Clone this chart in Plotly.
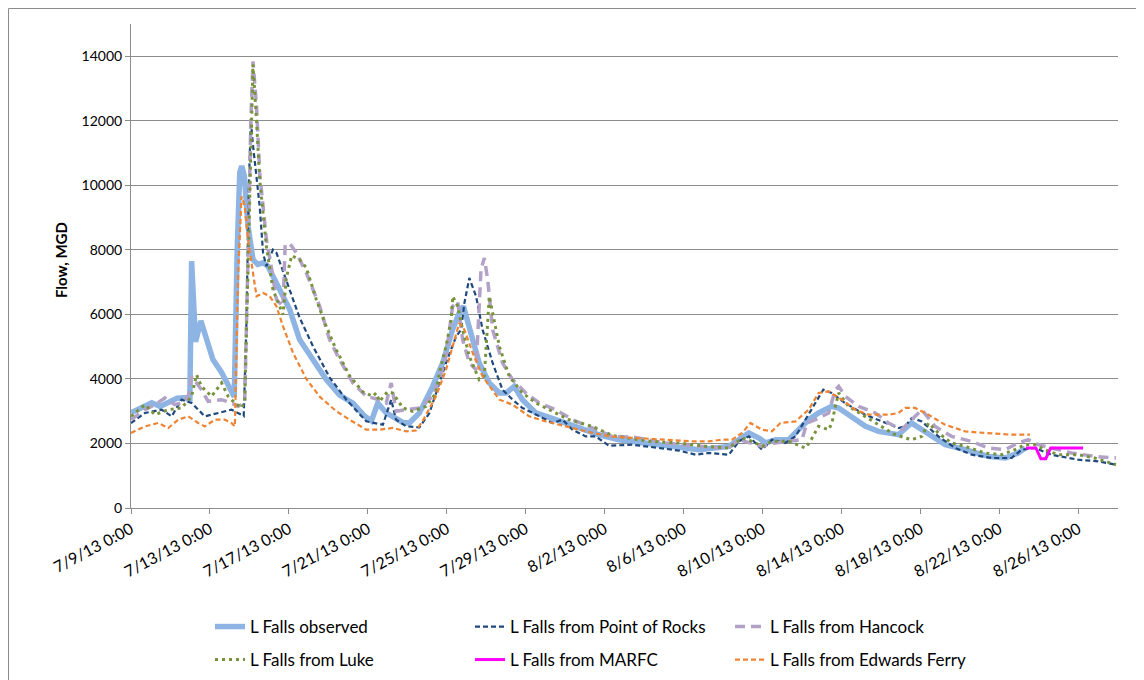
import pandas as pd
import plotly.graph_objects as go

BASE_DATE = "2013-07-09"

# ---- data: days since 7/9/13 0:00 and flow (MGD) ----
obs_days = [0, 1.05, 1.47, 2.33, 2.83, 2.98, 3.07, 3.27, 3.54, 3.84, 4.15, 4.59, 5.09, 5.23, 5.38,
            5.51, 5.61, 5.74, 5.93, 6.18, 6.42, 6.69, 6.94, 7.53, 8.04, 8.54, 9.22, 9.89, 10.57, 11.24,
            11.83, 12.18, 12.50, 12.93, 13.35, 13.77, 14.11, 14.61, 15.28, 15.79, 16.29, 16.63, 16.84,
            17.14, 17.64, 18.15, 18.66, 19.01, 19.41, 19.83, 20.51, 21.52, 22.53, 23.71, 24.72, 26.23,
            27.76, 28.77, 30.29, 30.79, 31.30, 31.81, 32.15, 32.66, 33.32, 33.82, 34.33, 34.83, 35.49,
            35.85, 36.51, 37.21, 37.87, 38.88, 39.54, 40.24, 41.25, 42.26, 43.43, 44.29, 44.94, 45.30]
obs_vals = [2950, 3260, 3150, 3400, 3420, 3300, 7650, 5150, 5800, 5200, 4600, 4200, 3570, 3450, 8000,
            10400, 10600, 10300, 8730, 7700, 7550, 7600, 7490, 6770, 6150, 5220, 4600, 3980, 3500, 3250,
            2850, 2700, 3250, 2950, 2800, 2650, 2640, 2945, 3770, 4495, 5530, 6050, 6250,
            5530, 4495, 3875, 3565, 3565, 3770, 3357, 2945, 2737, 2530, 2270, 2117, 2015,
            1910, 1807, 1910, 2117, 2325, 2170, 2015, 2117, 2117, 2427, 2737, 2945, 3150,
            3100, 2840, 2530, 2375, 2272, 2635, 2375, 1962, 1807, 1600, 1550, 1705, 1860]

por_days = [0, 0.71, 1.55, 2.06, 2.56, 3.07, 3.74, 4.41, 5.09, 5.60, 5.71, 5.84, 5.97, 6.07, 6.17, 6.52,
            6.69, 6.86, 7.19, 7.37, 7.87, 8.54, 9.22, 10.06, 10.91, 11.92, 12.76, 13.18, 13.43, 13.94,
            14.61, 15.12, 15.62, 15.96, 16.47, 16.72, 16.89, 17.14, 17.48, 17.81, 18.32, 18.82, 19.33,
            19.83, 20.51, 21.35, 21.86, 22.36, 23.04, 23.54, 24.21, 25.39, 26.74, 27.76, 28.61, 29.27,
            30.29, 30.79, 31.30, 31.97, 32.47, 33.15, 33.66, 34.16, 34.67, 35.07, 35.49, 36.17, 37.19,
            38.21, 38.88, 39.22, 39.55, 40.06, 40.90, 41.75, 42.59, 43.60, 44.61, 45.12, 45.79, 46.63,
            47.98, 48.99, 49.90]
por_vals = [2635, 2945, 3047, 2840, 3357, 3255, 2840, 2945, 3047, 2890, 2850, 5500, 10000, 12000, 11300, 9350,
            7905, 7490, 8007, 7905, 7077, 5900, 5010, 4050, 3357, 2685, 2580, 3357, 2737, 2530,
            2500, 2945, 3875, 4495, 5320, 5527, 6355, 7130, 6560, 5527, 4495, 3667, 3357,
            3100, 2900, 2635, 2737, 2427, 2220, 2220, 1930, 1962, 1860, 1780, 1652, 1705,
            1652, 2065, 2220, 1807, 2117, 2015, 2220, 2737, 3255, 3667, 3565, 3255, 2892,
            2635, 2480, 2530, 2790, 2685, 2220, 1860, 1652, 1550, 1550, 1807, 1860, 1652,
            1497, 1445, 1342]

han_days = [0, 0.71, 1.21, 1.72, 2.22, 2.56, 2.90, 3.07, 3.57, 3.91, 4.59, 5.09, 5.42, 5.76, 5.97, 6.07,
            6.18, 6.36, 6.52, 6.86, 7.10, 7.37, 7.70, 7.81, 8.04, 8.38, 8.88, 9.56, 10.06, 10.57, 11.24,
            11.92, 12.59, 12.93, 13.18, 13.43, 13.94, 14.61, 15.28, 15.62, 15.96, 16.29, 16.55, 16.80,
            17.14, 17.48, 17.73, 17.90, 18.07, 18.32, 18.82, 19.33, 20.00, 20.68, 21.52, 22.36, 23.37,
            24.38, 25.39, 27.08, 28.77, 30.29, 30.79, 31.46, 31.97, 32.64, 33.99, 34.24, 34.67, 35.34,
            35.68, 35.85, 36.19, 36.86, 37.70, 38.37, 39.04, 39.55, 40.06, 40.73, 41.57, 42.58, 43.43,
            44.27, 44.94, 45.45, 45.96, 46.63, 47.64, 48.82, 49.90]
han_vals = [2737, 3047, 3202, 3410, 3202, 3255, 3460, 4080, 3667, 3305, 3357, 3255, 3150, 3255, 9000, 12000,
            13845, 12450, 10385, 8317, 7490, 6457, 6250, 8150, 8200, 7905, 7285, 6250, 5217, 4597, 3875,
            3460, 3357, 3255, 3875, 3000, 3047, 3100, 3460, 3977, 4700, 6250, 6405, 5217,
            4495, 4287, 7387, 7750, 7077, 5527, 4495, 3977, 3565, 3255, 3047, 2737, 2480,
            2220, 2200, 2015, 1910, 1860, 2117, 2015, 1910, 2015, 2117, 2635, 2737, 2945,
            3667, 3770, 3460, 3150, 2945, 2635, 2427, 2737, 3047, 2530, 2220, 2065, 1860,
            1807, 2015, 2117, 1962, 1860, 1705, 1600, 1550]

luke_days = [0, 0.71, 1.21, 1.89, 2.56, 3.07, 3.32, 3.57, 4.08, 4.59, 4.92, 5.26, 5.60, 5.76, 5.97, 6.07,
             6.18, 6.36, 6.52, 6.86, 7.19, 7.70, 7.87, 8.14, 8.54, 8.88, 9.39, 9.89, 10.40, 11.07, 11.74,
             12.25, 12.42, 12.59, 12.99, 13.26, 13.77, 14.27, 14.95, 15.45, 15.62, 15.96, 16.22, 16.30,
             16.55, 16.80, 17.14, 17.64, 17.90, 18.15, 18.32, 18.66, 19.16, 19.83, 20.51, 21.35, 22.19,
             23.37, 24.38, 26.24, 27.76, 29.10, 30.29, 30.96, 31.46, 31.97, 32.47, 33.32, 34.16, 34.41,
             34.83, 35.34, 35.51, 35.68, 35.85, 36.35, 37.19, 38.03, 38.62, 39.22, 39.55, 40.06, 40.40,
             40.90, 41.57, 42.25, 43.26, 44.10, 44.78, 45.28, 45.79, 46.30, 46.97, 47.98, 48.82, 49.90]
luke_vals = [2840, 3202, 2892, 3047, 3100, 3460, 4132, 3770, 3460, 3875, 3460, 3255, 3100, 3300, 8500, 11500,
             13750, 12000, 10180, 8110, 6767, 5990, 7130, 7820, 7697, 7450, 6457, 5630, 4900, 4100, 3600,
             3460, 3565, 3305, 3600, 3565, 3100, 2995, 3150, 3565, 4185, 5010, 5837, 6560,
             6250, 5527, 4700, 3977, 4100, 6560, 6045, 5010, 4080, 3565, 3255, 2995, 2737,
             2530, 2250, 2065, 2015, 1910, 1860, 2170, 2065, 1910, 2065, 2065, 1860, 2065,
             2530, 2427, 2635, 3150, 3565, 3150, 2840, 2530, 2300, 2170, 2120, 2220, 2635,
             2325, 2015, 1910, 1705, 1652, 1807, 1962, 1962, 1807, 1652, 1652, 1550, 1342]

marfc_days = [45.33, 45.84, 46.09, 46.34, 46.59, 48.23]
marfc_vals = [1860, 1860, 1530, 1530, 1860, 1860]

ef_days = [0, 0.71, 1.38, 1.89, 2.39, 2.90, 3.40, 3.74, 4.25, 4.75, 5.09, 5.26, 5.43, 5.60, 5.76, 5.93,
           6.18, 6.36, 6.69, 7.03, 7.37, 7.70, 8.21, 8.88, 9.56, 10.40, 11.07, 11.92, 12.59, 13.26, 13.94,
           14.44, 14.78, 15.45, 15.96, 16.38, 16.63, 16.89, 17.31, 17.81, 18.32, 18.66, 19.33, 20.17,
           21.02, 22.03, 23.04, 24.22, 25.73, 27.08, 28.43, 29.27, 29.95, 30.45, 30.96, 31.38, 31.97,
           32.47, 32.90, 33.66, 34.33, 34.83, 35.34, 36.01, 36.69, 37.36, 38.37, 38.88, 39.22, 39.72,
           40.40, 41.24, 42.25, 43.26, 44.61, 45.54]
ef_vals = [2325, 2530, 2635, 2480, 2737, 2840, 2635, 2530, 2737, 2737, 2635, 2530, 7285, 9660, 9350, 8317,
           7285, 6560, 6665, 6560, 6250, 5630, 4805, 4000, 3450, 3000, 2737, 2427, 2427, 2480, 2375,
           2400, 2700, 3460, 4287, 5217, 5735, 5527, 4805, 4080, 3667, 3357, 3202, 2840,
           2685, 2530, 2375, 2220, 2170, 2117, 2065, 2065, 2117, 2117, 2325, 2635, 2427,
           2375, 2635, 2685, 3047, 3565, 3615, 3357, 3047, 2892, 2892, 2945, 3100, 3100,
           2892, 2582, 2375, 2325, 2272, 2272]

tick_dates = ["2013-07-09", "2013-07-13", "2013-07-17", "2013-07-21", "2013-07-25", "2013-07-29",
              "2013-08-02", "2013-08-06", "2013-08-10", "2013-08-14", "2013-08-18", "2013-08-22",
              "2013-08-26"]
tick_labels = ["7/9/13 0:00", "7/13/13 0:00", "7/17/13 0:00", "7/21/13 0:00", "7/25/13 0:00",
               "7/29/13 0:00", "8/2/13 0:00", "8/6/13 0:00", "8/10/13 0:00", "8/14/13 0:00",
               "8/18/13 0:00", "8/22/13 0:00", "8/26/13 0:00"]
x_range = ["2013-07-09", "2013-08-28"]
y_ticks = [0, 2000, 4000, 6000, 8000, 10000, 12000, 14000]

series_names = ["L Falls observed", "L Falls from Point of Rocks", "L Falls from Hancock",
                "L Falls from Luke", "L Falls from MARFC", "L Falls from Edwards Ferry"]


def to_dates(days):
    return pd.Timestamp(BASE_DATE) + pd.to_timedelta(days, unit="D")


FONT = "Lato, 'Liberation Sans', sans-serif"
GRID = "#8c8c8c"

styles = [
    dict(color="#8DB4E2", width=5.5, dash="solid"),
    dict(color="#1F497D", width=2.2, dash="5px,3px"),
    dict(color="#B3A2C7", width=3.5, dash="10px,6px"),
    dict(color="#77933C", width=3, dash="3px,4px"),
    dict(color="#FF00FF", width=3, dash="solid"),
    dict(color="#EE8433", width=2.2, dash="5px,3px"),
]
data = [(obs_days, obs_vals), (por_days, por_vals), (han_days, han_vals),
        (luke_days, luke_vals), (marfc_days, marfc_vals), (ef_days, ef_vals)]

fig = go.Figure()
for i, ((d, v), name, st) in enumerate(zip(data, series_names, styles)):
    fig.add_trace(go.Scatter(
        x=to_dates(d), y=v, mode="lines", name=name,
        line=dict(color=st["color"], width=st["width"], dash=st["dash"]),
        legend="legend" if i < 3 else "legend2",
    ))

# page body has an 8px margin: the figure starts at window (8, 8)
OFF = 8
W, H = 1136, 672
L, R, T, B = 123, 26, 16, 172
pw, ph = W - L - R, H - T - B


def px_to_paper_x(px):
    return (px - OFF - L) / pw


def px_to_paper_y(py):
    return (H - B - (py - OFF)) / ph


legend_common = dict(
    orientation="h", xanchor="left", yanchor="middle",
    xref="container", yref="container",
    entrywidth=215, entrywidthmode="pixels",
    font=dict(family=FONT, size=17, color="#000000"),
    bgcolor="rgba(0,0,0,0)", itemclick=False,
)

fig.update_layout(
    width=W, height=H,
    margin=dict(l=L, r=R, t=T, b=B, autoexpand=False),
    plot_bgcolor="white", paper_bgcolor="white",
    font=dict(family=FONT, size=13, color="#000000"),
    legend=dict(x=(210 - OFF) / W, y=1 - (627 - OFF) / H, **legend_common),
    legend2=dict(x=(210 - OFF) / W, y=1 - (660 - OFF) / H, **legend_common),
    xaxis=dict(
        type="date", range=x_range, automargin=False,
        tickmode="array", tickvals=tick_dates, ticktext=tick_labels,
        tickangle=-28, tickfont=dict(family=FONT, size=16, color="#000000"),
        showgrid=False, showline=True, linecolor=GRID, linewidth=1,
        ticks="outside", ticklen=5, tickcolor=GRID, zeroline=False,
    ),
    yaxis=dict(
        range=[0, 15000], automargin=False,
        tickmode="array", tickvals=y_ticks, ticktext=[str(v) for v in y_ticks],
        tickfont=dict(family=FONT, size=14, color="#000000"),
        showgrid=True, gridcolor=GRID, gridwidth=1,
        showline=True, linecolor=GRID, linewidth=1,
        ticks="outside", ticklen=5, tickcolor=GRID, zeroline=False,
    ),
    annotations=[dict(
        text="<b>Flow, MGD</b>", textangle=-90,
        x=px_to_paper_x(50), y=px_to_paper_y(260), xref="paper", yref="paper",
        showarrow=False, font=dict(family=FONT, size=15, color="#000000"),
    )],
    shapes=[dict(
        type="rect", xref="paper", yref="paper",
        x0=px_to_paper_x(8.5), x1=px_to_paper_x(1140.5),
        y0=px_to_paper_y(700), y1=px_to_paper_y(8.5),
        line=dict(color="#8c8c8c", width=1), fillcolor="rgba(0,0,0,0)", layer="below",
    )],
)

fig.write_html("out.html")
